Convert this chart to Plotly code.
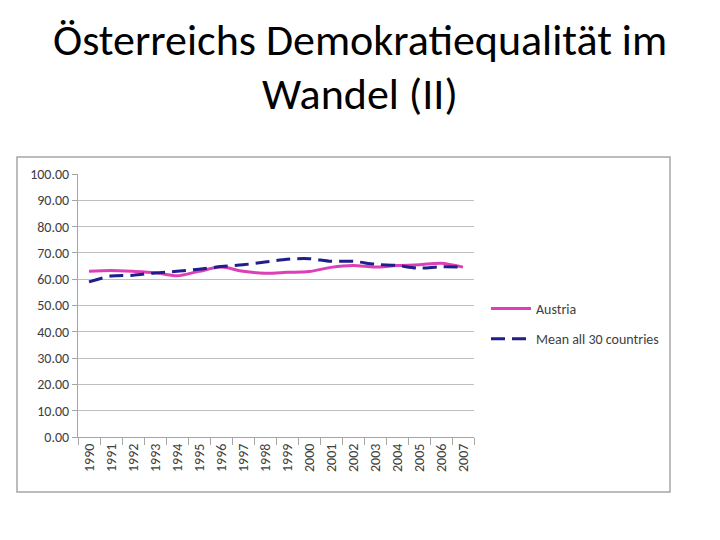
import plotly.graph_objects as go

years = [str(y) for y in range(1990, 2008)]
austria = [63.0, 63.3, 63.0, 62.5, 61.3, 63.0, 64.6, 63.0, 62.3, 62.6, 62.9, 64.5, 65.2, 64.6, 65.2, 65.5, 66.1, 64.6]
mean30 = [59.0, 61.2, 61.5, 62.4, 63.0, 63.8, 64.8, 65.5, 66.5, 67.6, 67.8, 66.8, 66.8, 65.7, 65.2, 64.2, 64.7, 64.6]
yticks = [0, 10, 20, 30, 40, 50, 60, 70, 80, 90, 100]
title_lines = ["Österreichs Demokratiequalität im", "Wandel (II)"]

W, H = 720, 540
L, R, T, B = 78, 474, 174, 437
FONT = "Carlito, Lato, sans-serif"

fig = go.Figure()
fig.add_trace(go.Scatter(x=years, y=austria, name="Austria", mode="lines", legendgroup="a",
                         line=dict(color="#DD3FB5", width=3, shape="spline", smoothing=0.8)))
fig.add_trace(go.Scatter(x=years, y=mean30, name="Mean all 30 countries", mode="lines", legendgroup="b",
                         line=dict(color="#1E1E8C", width=3, dash="14px,7px", shape="spline", smoothing=0.8)))

def px(x):
    return (x - L) / (R - L)

def py(y):
    return (B - y) / (B - T)

fig.add_shape(type="rect", xref="paper", yref="paper",
              x0=px(17), x1=px(670), y0=py(492), y1=py(157),
              line=dict(color="#A6A6A6", width=1.5), layer="below")

for txt, yc in zip(title_lines, [40, 94]):
    fig.add_annotation(text=txt, xref="paper", yref="paper",
                       x=px(360), y=py(yc), xanchor="center", yanchor="middle",
                       showarrow=False,
                       font=dict(family=FONT, size=44, color="black"))

fig.update_layout(
    width=W, height=H,
    margin=dict(l=L, r=W - R, t=T, b=H - B, autoexpand=False),
    paper_bgcolor="white", plot_bgcolor="white",
    showlegend=True,
    legend=dict(x=px(486), y=py(293), xanchor="left", yanchor="top",
                font=dict(family=FONT, size=14, color="#404040"),
                tracegroupgap=9, itemwidth=40, bgcolor="rgba(0,0,0,0)"),
    font=dict(family=FONT, size=12, color="#404040"),
)
fig.update_xaxes(type="category", range=[-0.5, 17.5], tickangle=-90,
                 showgrid=False, showline=True, linecolor="#A6A6A6", linewidth=1,
                 ticks="outside", tickson="boundaries", ticklen=7, tickcolor="#A6A6A6",
                 tickfont=dict(size=14, color="#404040"), automargin=False)
fig.update_yaxes(range=[0, 100], tickvals=yticks, tickformat=".2f",
                 showgrid=True, gridcolor="#BFBFBF", gridwidth=1,
                 showline=True, linecolor="#A6A6A6", linewidth=1,
                 ticks="outside", ticklen=5, tickcolor="#A6A6A6",
                 zeroline=False, tickfont=dict(size=14, color="#404040"), automargin=False)

fig.write_html("out.html", config={"displayModeBar": False},
               post_script="document.body.style.margin='0';")
